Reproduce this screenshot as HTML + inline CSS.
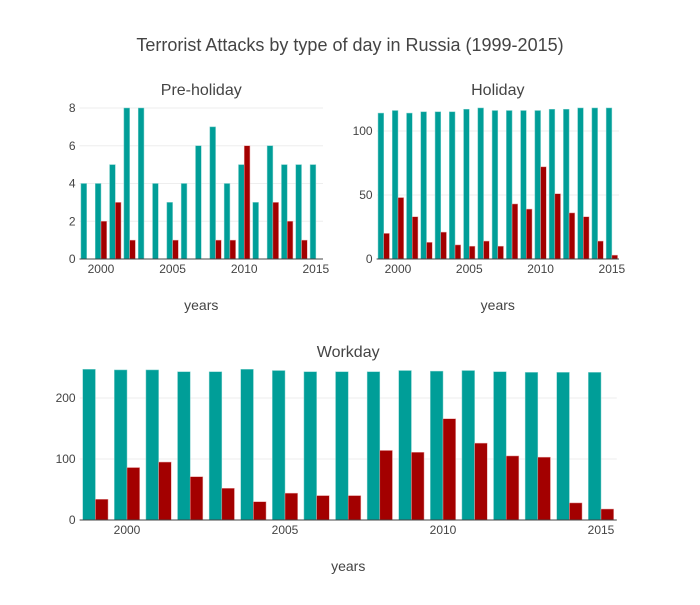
<!DOCTYPE html>
<html><head><meta charset="utf-8"><style>
body{margin:0;background:#fff;font-family:"Liberation Sans",sans-serif;}
svg text{font-family:"Liberation Sans",sans-serif;fill:#444;}
</style></head><body>
<svg id="c" width="700" height="600">
<text x="350" y="51" text-anchor="middle" font-size="18">Terrorist Attacks by type of day in Russia (1999-2015)</text>
</svg>
<script>
const years=[1999,2000,2001,2002,2003,2004,2005,2006,2007,2008,2009,2010,2011,2012,2013,2014,2015];
const preTeal=[4,4,5,8,8,4,3,4,6,7,4,5,3,6,5,5,5];
const preRed=[0,2,3,1,0,0,1,0,0,1,1,6,0,3,2,1,0];
const holTeal=[114,116,114,115,115,115,117,118,116,116,116,116,117,117,118,118,118];
const holRed=[20,48,33,13,21,11,10,14,10,43,39,72,51,36,33,14,3];
const workTeal=[247,246,246,243,243,247,245,243,243,243,245,244,245,243,242,242,242];
const workRed=[34,86,95,71,52,30,44,40,40,114,111,166,126,105,103,28,18];
const preTicks=[0,2,4,6,8], holTicks=[0,50,100], workTicks=[0,100,200];
const xTicks=[2000,2005,2010,2015];
const NS='http://www.w3.org/2000/svg', svg=document.getElementById('c');
function mk(t,a,p){const e=document.createElementNS(NS,t);for(const k in a)e.setAttribute(k,a[k]);(p||svg).appendChild(e);return e;}
function panel(name,title,titleY,x0,x1,yb,ymaxPx,ymax,teal,red,ticks){
  const g=mk('g',{});
  
  
  const xs=y=>x0+(y-1998.5)/17*(x1-x0);
  const ys=v=>yb-v/ymax*(yb-ymaxPx);
  const slot=(x1-x0)/17, bw=slot*0.4;
  ticks.forEach(t=>{
    if(t>0){const l=mk('line',{x1:x0,x2:x1,y1:ys(t),y2:ys(t),stroke:'#eee'},g);}
    const tx=mk('text',{x:x0-4,y:ys(t)+4,'text-anchor':'end','font-size':12},g);tx.textContent=t;
    
  });
  years.forEach((yr,i)=>{
    const c=xs(yr);
    const b1=mk('rect',{x:c-bw,y:ys(teal[i]),width:bw,height:yb-ys(teal[i]),fill:'#009e98',stroke:'#7fd0cc','stroke-width':0.5},g);
    
    const b2=mk('rect',{x:c,y:ys(red[i]),width:bw,height:yb-ys(red[i]),fill:'#a30000',stroke:'#e8a0a0','stroke-width':0.5},g);
    
  });
  const ax=mk('line',{x1:x0,x2:x1,y1:yb,y2:yb,stroke:'#444'},g);
  
  xTicks.forEach(t=>{const tx=mk('text',{x:xs(t),y:yb+14,'text-anchor':'middle','font-size':12},g);tx.textContent=t;
    });
  const tt=mk('text',{x:(x0+x1)/2,y:titleY,'text-anchor':'middle','font-size':16},g);tt.textContent=title;
  
  const xt=mk('text',{x:(x0+x1)/2,y:yb+51,'text-anchor':'middle','font-size':14},g);xt.textContent='years';
  
}
panel('pre-holiday','Pre-holiday',95,79.5,323,259,108,8,preTeal,preRed,preTicks);
panel('holiday','Holiday',95,376.6,619,259,131,100,holTeal,holRed,holTicks);
panel('workday','Workday',357,79.6,616.8,520,398,200,workTeal,workRed,workTicks);
</script>
</body></html>
